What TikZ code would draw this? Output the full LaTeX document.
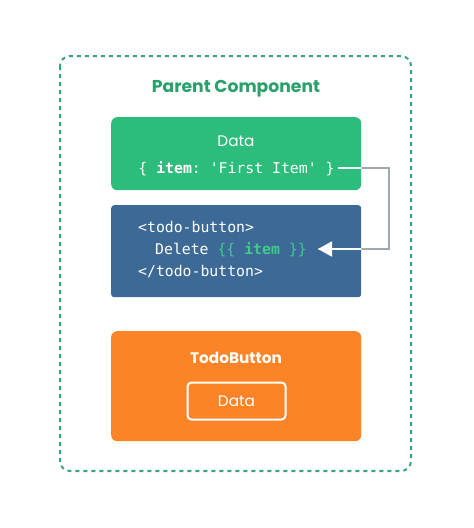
\documentclass[tikz,border=0pt]{standalone}
\usepackage{fontspec}
\setmainfont{Poppins}
\setmonofont{DejaVu Sans Mono}
\usetikzlibrary{arrows.meta,positioning}
\definecolor{framegreen}{HTML}{34A57A}
\definecolor{titlegreen}{HTML}{2AA06B}
\definecolor{datagreen}{HTML}{2CBC7B}
\definecolor{codeblue}{HTML}{3D6996}
\definecolor{mustache}{HTML}{42C98F}
\definecolor{linegrey}{HTML}{A2A9AE}
\definecolor{todoorange}{HTML}{FC8427}
\tikzset{
  box/.style={rounded corners=6pt, minimum width=250pt, anchor=north west, inner sep=0pt},
  label/.style={text=white, inner sep=0pt, font=\fontsize{15.3}{17}\selectfont},
  code/.style={text=white, inner sep=0pt, anchor=base west, font=\fontsize{14.8}{16}\selectfont\ttfamily},
  link/.style={line width=2pt, line join=miter}
}
\newcommand{\itm}{\textbf{item}}

\begin{document}
\begin{tikzpicture}[x=1pt,y=-1pt]
\useasboundingbox[fill=white] (0,0) rectangle (474,528);
% outer frame
\draw[framegreen, line width=2pt, dash pattern=on 4pt off 4pt, rounded corners=10pt]
      (60,56) rectangle (411,471);
\node[text=titlegreen, font=\fontsize{17.2}{20}\selectfont\bfseries] (title) at (236,89) {Parent Component};
% data box
\node[box, fill=datagreen, minimum height=73pt] (data) at (111,117) {};
\node[label] (dataname) at (236,141) {Data};
\node[code, anchor=base] (itemline) at (236.5,173) {\{ \itm: 'First Item' \}};
% template box
\node[box, fill=codeblue, minimum height=92pt, rounded corners=3pt] (tmpl) at (111,205) {};
\node[code] (open) at (138,232) {<todo-button>};
\node[code] (deleteline) at (155,254) {Delete \textcolor{mustache}{\{\{ \itm\ \}\}}};
\node[code] (close) at (138,276) {</todo-button>};
\coordinate (turn) at (389,249);
\coordinate (tip) at (318,249);
% child component
\node[box, fill=todoorange, minimum height=110pt] (todo) at (111,331) {};
\node[label, font=\fontsize{15.3}{17}\selectfont\bfseries] (todoname) at (236,358) {TodoButton};
\node[draw=white, line width=2pt, rounded corners=4pt, minimum width=98pt, minimum height=37pt,
      label] (inner) at (236.5,401) {Data};
% connector
\coordinate (from) at (338,168);
\draw[link, linegrey] (from) -| (turn) -- (tip);
\begin{scope}
  \clip (data.north west) rectangle (data.south east) (tmpl.north west) rectangle (tmpl.south east);
  \draw[link, white, -{Triangle[length=14pt,width=15pt]}] (from) -| (turn) -- (tip);
\end{scope}
\end{tikzpicture}
\end{document}
